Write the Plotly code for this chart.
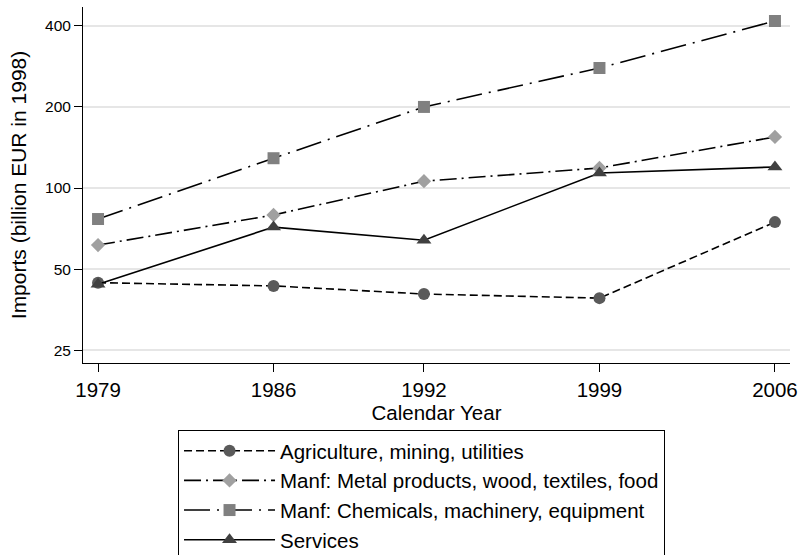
import plotly.graph_objects as go

# Imports by sector, billion EUR (1998 prices)
years = [1979, 1986, 1992, 1999, 2006]
agriculture = [44.5, 43.3, 40.4, 39.0, 74.7]
metal_wood_textiles_food = [61.4, 79.4, 106.0, 118.7, 154.7]
chemicals_machinery = [76.7, 129.0, 200.0, 279.0, 417.0]
services = [43.9, 71.6, 64.0, 113.7, 119.7]

series_names = [
    "Agriculture, mining, utilities",
    "Manf: Metal products, wood, textiles, food",
    "Manf: Chemicals, machinery, equipment",
    "Services",
]
y_ticks = [25, 50, 100, 200, 400]

FONT = "Liberation Sans, Arial, sans-serif"

styles = [
    dict(dash="8px,4px", symbol="circle", size=12, color="#5a5a5a"),
    dict(dash="17px,5px,2px,5px", symbol="diamond", size=11, color="#a0a0a0"),
    dict(dash="26px,7px,2px,7px", symbol="square", size=12, color="#808080"),
    dict(dash="solid", symbol="triangle-up", size=13, color="#404040"),
]

fig = go.Figure()
for name, vals, st in zip(series_names,
                          [agriculture, metal_wood_textiles_food,
                           chemicals_machinery, services], styles):
    fig.add_trace(go.Scatter(
        x=years, y=vals, name=name, mode="lines+markers",
        line=dict(color="black", width=1.6, dash=st["dash"]),
        marker=dict(symbol=st["symbol"], size=st["size"], color=st["color"],
                    line=dict(width=0)),
    ))

fig.update_layout(
    width=804, height=555,
    margin=dict(l=83, r=14, t=7, b=192, autoexpand=False),
    paper_bgcolor="white", plot_bgcolor="white",
    font=dict(family=FONT, color="black", size=20),
    showlegend=True,
    legend=dict(
        x=0.1344, xanchor="left", y=-0.188, yanchor="top",
        bordercolor="black", borderwidth=1, bgcolor="white",
        font=dict(size=20.5), tracegroupgap=0, itemwidth=91,
    ),
    xaxis=dict(
        range=[1978.4, 2006.6], tickvals=years,
        ticktext=[str(y) for y in years],
        showgrid=False, zeroline=False, automargin=False,
        showline=True, linecolor="black", linewidth=1,
        ticks="outside", ticklen=8, tickcolor="black",
        tickfont=dict(size=20.5),
        title=dict(text="Calendar Year", font=dict(size=20.5), standoff=0),
    ),
    yaxis=dict(
        type="log", range=[1.3502, 2.6721], tickvals=y_ticks,
        ticktext=[str(v) for v in y_ticks],
        showgrid=True, gridcolor="#e6e6e6", gridwidth=1.5,
        zeroline=False, automargin=False,
        showline=True, linecolor="black", linewidth=1,
        ticks="outside", ticklen=8, tickcolor="black",
        tickfont=dict(size=15.5),
        title=dict(text="Imports (billion EUR in 1998)", font=dict(size=21),
                   standoff=12),
    ),
)

fig.write_html("out.html")
